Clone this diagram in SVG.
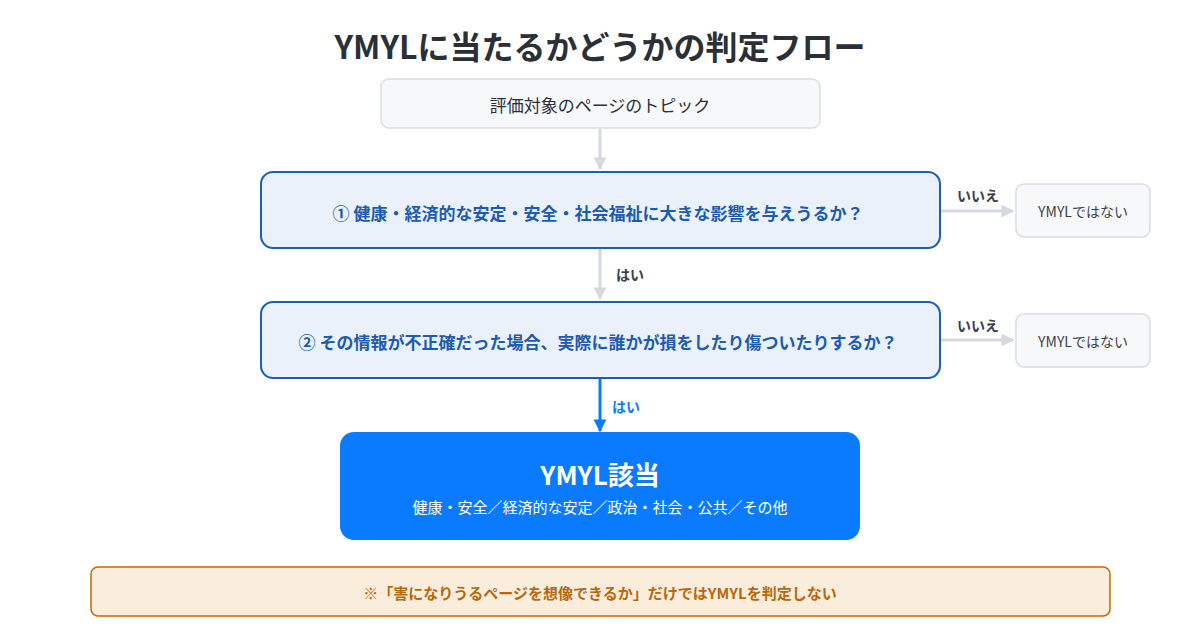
<svg xmlns="http://www.w3.org/2000/svg" width="1200" height="630" viewBox="0 0 1200 630">
<defs>
<marker id="ag" viewBox="0 0 10 10" refX="9" refY="5" markerWidth="4.3" markerHeight="4.3" markerUnits="strokeWidth" orient="auto"><path d="M0,0 L10,5 L0,10 z" fill="#d5d9df"/></marker>
<marker id="ab" viewBox="0 0 10 10" refX="9" refY="5" markerWidth="4.3" markerHeight="4.3" markerUnits="strokeWidth" orient="auto"><path d="M0,0 L10,5 L0,10 z" fill="#0a7bff"/></marker>
</defs>
<style>
text{font-family:"Noto Sans CJK JP","Noto Sans",sans-serif;text-anchor:middle;dominant-baseline:central}
.title{font-size:32px;font-weight:700;fill:#2b2f36}
.plain{fill:#f7f8fa;stroke:#d9dde3;stroke-width:1.5}
.q{fill:#eaf1fb;stroke:#1a5fb4;stroke-width:2}
.qt{font-size:17px;font-weight:700;fill:#1c5bb0}
.pt{font-size:17px;fill:#2b2f36}
.st{font-size:14px;fill:#3a3f47}
.lbl{font-size:14px;font-weight:700;fill:#3a3f47}
.gl{stroke:#d5d9df;stroke-width:3;fill:none}
</style>
<rect width="1200" height="630" fill="#ffffff"/>
<text class="title" x="600" y="45">YMYLに当たるかどうかの判定フロー</text>
<g id="connectors">
<line class="gl" x1="600" y1="129" x2="600" y2="169" marker-end="url(#ag)"/>
<line class="gl" x1="600" y1="249" x2="600" y2="299" marker-end="url(#ag)"/>
<text class="lbl" x="630" y="274">はい</text>
<line class="gl" x1="941" y1="211" x2="1013" y2="211" marker-end="url(#ag)"/>
<text class="lbl" x="978" y="195">いいえ</text>
<line class="gl" x1="941" y1="340" x2="1013" y2="340" marker-end="url(#ag)"/>
<text class="lbl" x="978" y="325">いいえ</text>
<line x1="600" y1="379" x2="600" y2="431" stroke="#0a7bff" stroke-width="3" marker-end="url(#ab)"/>
<text class="lbl" x="626" y="406" style="fill:#0a7bff">はい</text>
</g>
<g id="start">
<rect class="plain" x="381" y="79" width="439" height="49" rx="8"/>
<text class="pt" x="600" y="104">評価対象のページのトピック</text>
</g>
<g id="q1">
<rect class="q" x="261" y="172" width="679" height="76" rx="12"/>
<text class="qt" x="598" y="212">① 健康・経済的な安定・安全・社会福祉に大きな影響を与えうるか？</text>
</g>
<g id="no1">
<rect class="plain" x="1016" y="184" width="134" height="53" rx="8"/>
<text class="st" x="1083" y="211">YMYLではない</text>
</g>
<g id="q2">
<rect class="q" x="261" y="302" width="679" height="76" rx="12"/>
<text class="qt" x="598" y="341">② その情報が不正確だった場合、実際に誰かが損をしたり傷ついたりするか？</text>
</g>
<g id="no2">
<rect class="plain" x="1016" y="314" width="134" height="53" rx="8"/>
<text class="st" x="1083" y="341">YMYLではない</text>
</g>
<g id="ymyl">
<rect x="340" y="432" width="520" height="108" rx="14" fill="#0a7bff"/>
<text x="600" y="473" style="font-size:26px;font-weight:700;fill:#ffffff">YMYL該当</text>
<text x="600" y="506" style="font-size:15px;fill:#ffffff">健康・安全／経済的な安定／政治・社会・公共／その他</text>
</g>
<g id="note">
<rect x="91" y="567" width="1019" height="49" rx="7" fill="#fbeddc" stroke="#c46a00" stroke-width="1.5"/>
<text x="600" y="592" style="font-size:15px;font-weight:600;fill:#b8680c">※「害になりうるページを想像できるか」だけではYMYLを判定しない</text>
</g>
</svg>
